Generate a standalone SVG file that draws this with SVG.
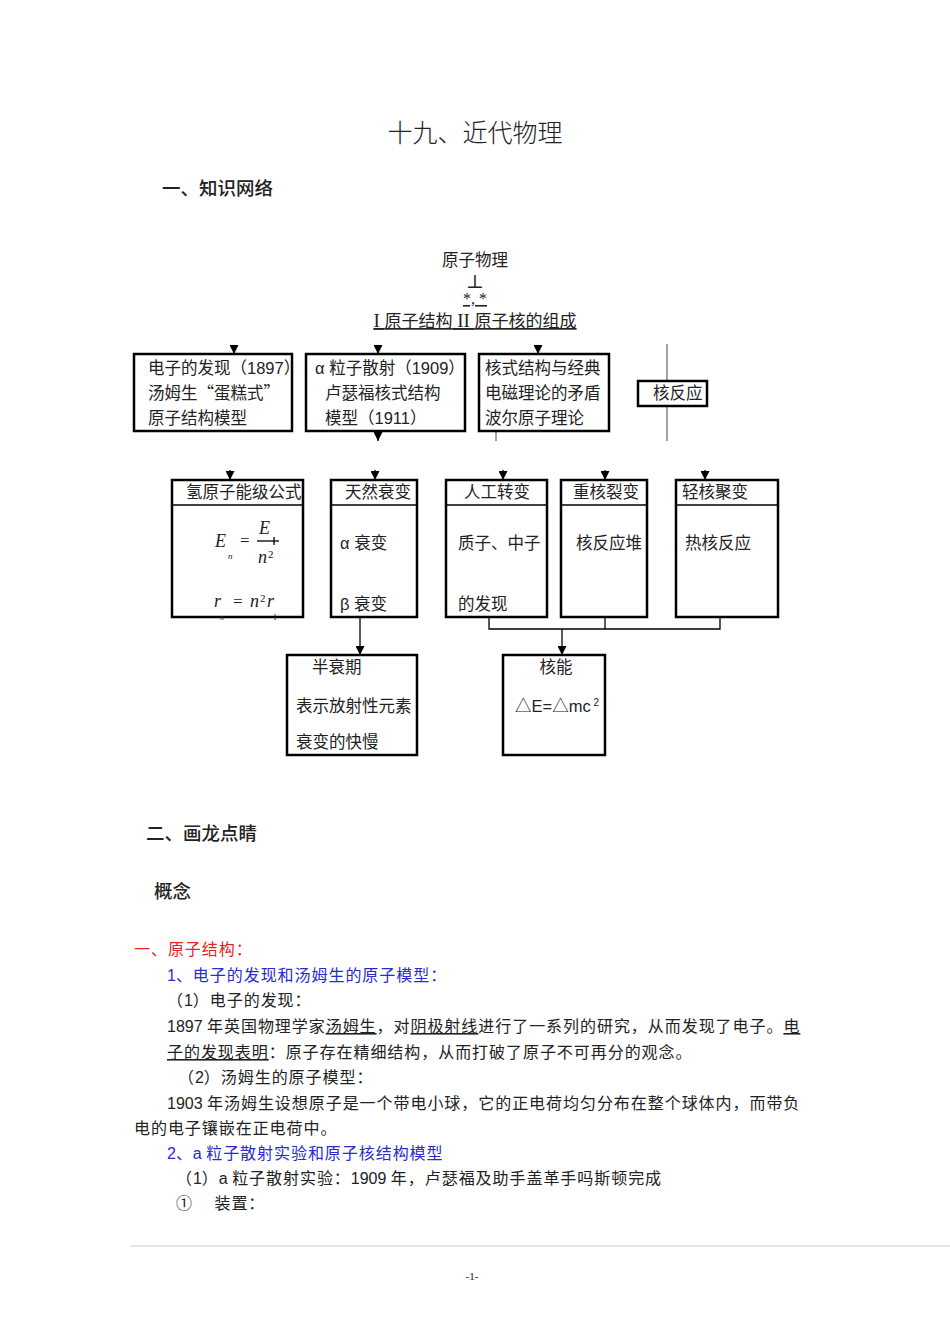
<svg xmlns="http://www.w3.org/2000/svg" width="950" height="1344" viewBox="0 0 950 1344">
<defs>
<marker id="ah" viewBox="0 0 10 10" refX="10" refY="5" markerWidth="9" markerHeight="9" markerUnits="userSpaceOnUse" orient="auto"><path d="M0,0 L10,5 L0,10 Z" fill="#000"/></marker>
<style>
text{font-family:"Noto Sans CJK SC","Liberation Sans",sans-serif;fill:#222}
.t{font-size:16.5px}
.p{font-size:16px;letter-spacing:0.95px}
.d{font-family:"Liberation Sans",sans-serif;letter-spacing:0}
.box{fill:#fff;stroke:#000;stroke-width:2.5}
.ln{fill:none;stroke:#000;stroke-width:1.3}
.ar{fill:none;stroke:#000;stroke-width:1.3;marker-end:url(#ah)}
.gl{fill:none;stroke:#666;stroke-width:1.2}
.m{font-family:"Liberation Serif",serif;font-style:italic;font-size:18px}
.s{font-family:"Liberation Serif",serif;font-style:italic;font-size:9px}
.h{font-size:18.5px;font-weight:500}
.red{fill:#e8231f}
.blue{fill:#2a2ad0}
</style>
</defs>
<rect width="950" height="1344" fill="#fff"/>
<text x="475" y="142" text-anchor="middle" style="font-size:25px;font-weight:300">十九、近代物理</text>
<text x="162" y="195" class="h">一、知识网络</text>

<g id="root">
<text x="475" y="266" text-anchor="middle" class="t">原子物理</text>
<text x="475" y="288" text-anchor="middle" style="font-family:'DejaVu Serif',serif;font-size:19px">⊥</text>
<text x="475" y="304" text-anchor="middle" style="font-family:'Liberation Serif',serif;font-size:16px" text-decoration="underline">*, *</text>
<text x="475" y="327" text-anchor="middle" style="font-size:17px" text-decoration="underline"><tspan style="font-family:'Liberation Serif',serif;font-size:19px">I </tspan>原子结构<tspan style="font-family:'Liberation Serif',serif;font-size:19px"> II </tspan>原子核的组成</text>
</g>

<g id="connectors">
<line class="ar" x1="234" y1="345" x2="234" y2="354"/>
<line class="ar" x1="378" y1="345" x2="378" y2="354"/>
<line class="ar" x1="538" y1="345" x2="538" y2="354"/>
<line class="ar" x1="378" y1="431" x2="378" y2="441"/>
<line class="gl" x1="496" y1="431" x2="496" y2="441"/>
<line class="gl" x1="667" y1="344" x2="667" y2="381"/>
<line class="gl" x1="667" y1="406" x2="667" y2="441"/>
<line class="ar" x1="230" y1="470" x2="230" y2="480"/>
<line class="ar" x1="375" y1="470" x2="375" y2="480"/>
<line class="ar" x1="503" y1="470" x2="503" y2="480"/>
<line class="ar" x1="605" y1="470" x2="605" y2="480"/>
<line class="ar" x1="705" y1="470" x2="705" y2="480"/>
<line class="ar" x1="360" y1="618" x2="360" y2="655"/>
<path class="ln" d="M489,618 V629 H720 V618 M605,618 V629"/>
<line class="ar" x1="562" y1="629" x2="562" y2="655"/>
</g>

<g id="n-electron">
<rect class="box" x="134" y="354" width="158" height="77"/>
<text class="t" x="148" y="374">电子的发现（<tspan class="d">1897</tspan>）</text>
<text class="t" x="148" y="399">汤姆生“蛋糕式”</text>
<text class="t" x="148" y="424">原子结构模型</text>
</g>
<g id="n-alpha">
<rect class="box" x="306" y="354" width="159" height="77"/>
<text class="t" x="315" y="374"><tspan class="d">α </tspan>粒子散射（<tspan class="d">1909</tspan>）</text>
<text class="t" x="325" y="399">卢瑟福核式结构</text>
<text class="t" x="325" y="424">模型（<tspan class="d">1911</tspan>）</text>
</g>
<g id="n-bohr">
<rect class="box" x="479" y="354" width="130" height="77"/>
<text class="t" x="485" y="374">核式结构与经典</text>
<text class="t" x="485" y="399">电磁理论的矛盾</text>
<text class="t" x="485" y="424">波尔原子理论</text>
</g>
<g id="n-nuclear">
<rect class="box" x="638" y="381" width="69" height="25"/>
<text class="t" x="653" y="399">核反应</text>
</g>

<g id="n-hydrogen">
<rect class="box" x="172" y="480" width="131" height="137"/>
<line class="ln" x1="172" y1="505" x2="303" y2="505" stroke-width="2"/>
<text class="t" x="186" y="498">氢原子能级公式</text>
<text class="m" x="215" y="547">E</text>
<text class="s" x="228" y="559">n</text>
<text x="240" y="546" style="font-family:'Liberation Serif',serif;font-size:17px">=</text>
<text class="m" x="259" y="534">E</text>
<line class="ln" x1="257" y1="541" x2="279" y2="541"/>
<line class="ln" x1="274" y1="537" x2="274" y2="545"/>
<text class="m" x="258" y="563">n</text>
<text x="268" y="558" style="font-family:'Liberation Serif',serif;font-size:11px">2</text>
<text class="m" x="214" y="607">r</text>
<text class="s" x="220" y="620" style="font-size:8px">n</text>
<text x="233" y="607" style="font-family:'Liberation Serif',serif;font-size:17px">=</text>
<text class="m" x="250" y="607">n</text>
<text x="260" y="602" style="font-family:'Liberation Serif',serif;font-size:11px">2</text>
<text class="m" x="267" y="607">r</text>
<text x="273" y="620" style="font-family:'Liberation Serif',serif;font-size:8px">1</text>
</g>
<g id="n-natural">
<rect class="box" x="331" y="480" width="86" height="137"/>
<line class="ln" x1="331" y1="505" x2="417" y2="505" stroke-width="2"/>
<text class="t" x="345" y="498">天然衰变</text>
<text class="t" x="340" y="549"><tspan class="d">α </tspan>衰变</text>
<text class="t" x="340" y="610"><tspan class="d">β </tspan>衰变</text>
</g>
<g id="n-artificial">
<rect class="box" x="446" y="480" width="101" height="137"/>
<line class="ln" x1="446" y1="505" x2="547" y2="505" stroke-width="2"/>
<text class="t" x="464" y="498">人工转变</text>
<text class="t" x="458" y="549">质子、中子</text>
<text class="t" x="458" y="610">的发现</text>
</g>
<g id="n-fission">
<rect class="box" x="561" y="480" width="86" height="137"/>
<line class="ln" x1="561" y1="505" x2="647" y2="505" stroke-width="2"/>
<text class="t" x="573" y="498">重核裂变</text>
<text class="t" x="576" y="549">核反应堆</text>
</g>
<g id="n-fusion">
<rect class="box" x="676" y="480" width="102" height="137"/>
<line class="ln" x1="676" y1="505" x2="778" y2="505" stroke-width="2"/>
<text class="t" x="682" y="498">轻核聚变</text>
<text class="t" x="685" y="549">热核反应</text>
</g>
<g id="n-halflife">
<rect class="box" x="287" y="655" width="130" height="100"/>
<text class="t" x="312" y="673">半衰期</text>
<text class="t" x="296" y="712">表示放射性元素</text>
<text class="t" x="296" y="748">衰变的快慢</text>
</g>
<g id="n-energy">
<rect class="box" x="503" y="655" width="102" height="100"/>
<text class="t" x="556" y="673" text-anchor="middle">核能</text>
<text class="t" x="515" y="712">△<tspan class="d">E=</tspan>△<tspan class="d">mc</tspan><tspan class="d" font-size="10" dy="-6"> 2</tspan></text>
</g>

<text x="146" y="840" class="h">二、画龙点睛</text>
<text x="154" y="898" class="h">概念</text>
<text class="p red" x="134" y="955">一、原子结构：</text>
<text class="p blue" x="167" y="981"><tspan class="d">1</tspan>、电子的发现和汤姆生的原子模型：</text>
<text class="p" x="167" y="1006">（<tspan class="d">1</tspan>）电子的发现：</text>
<text class="p" x="167" y="1032"><tspan class="d">1897 </tspan>年英国物理学家<tspan text-decoration="underline">汤姆生</tspan>，对<tspan text-decoration="underline">阴极射线</tspan>进行了一系列的研究，从而发现了电子。<tspan text-decoration="underline">电</tspan></text>
<text class="p" x="167" y="1058"><tspan text-decoration="underline">子的发现表明</tspan>：原子存在精细结构，从而打破了原子不可再分的观念。</text>
<text class="p" x="178" y="1083">（<tspan class="d">2</tspan>）汤姆生的原子模型：</text>
<text class="p" x="167" y="1109"><tspan class="d">1903 </tspan>年汤姆生设想原子是一个带电小球，它的正电荷均匀分布在整个球体内，而带负</text>
<text class="p" x="134" y="1134">电的电子镶嵌在正电荷中。</text>
<text class="p blue" x="167" y="1159"><tspan class="d">2</tspan>、<tspan class="d">a </tspan>粒子散射实验和原子核结构模型</text>
<text class="p" x="176" y="1184">（<tspan class="d">1</tspan>）<tspan class="d">a </tspan>粒子散射实验：<tspan class="d">1909 </tspan>年，卢瑟福及助手盖革手吗斯顿完成</text>
<text class="p" x="176" y="1209">①　 装置：</text>
<line x1="130" y1="1246" x2="950" y2="1246" stroke="#ccc" stroke-width="1"/>
<text x="472" y="1280" text-anchor="middle" style="font-family:'Liberation Serif',serif;font-size:11px">-1-</text>
</svg>
